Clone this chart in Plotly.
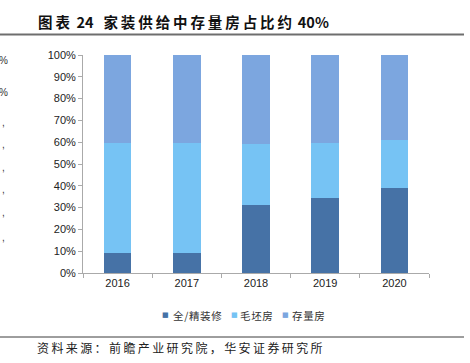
import plotly.graph_objects as go

years = ["2016", "2017", "2018", "2019", "2020"]
full_decor = [9, 9.2, 31, 34.6, 38.8]
rough = [50.5, 50.3, 28.2, 25.1, 22.3]
existing = [40.5, 40.5, 40.8, 40.3, 38.9]
series_names = ["全/精装修", "毛坯房", "存量房"]
colors = ["#4672A6", "#76C3F4", "#7CA6DF"]
ytick_vals = [0, 10, 20, 30, 40, 50, 60, 70, 80, 90, 100]
ytick_text = [f"{v}%" for v in ytick_vals]
title_label = "图表"
title_num = "24"
title_main = "家装供给中存量房占比约"
title_pct = "40%"
source_text = "资料来源：前瞻产业研究院，华安证券研究所"

W, H = 470, 363
PL, PR, PT, PB = 83, 429, 55, 273  # plot area in pixels
TICKFONT = dict(family="Liberation Sans", size=11, color="#222")


def fx(x):
    return x / W


def fy(y):
    return 1 - y / H


fig = go.Figure()
for name, vals, c in zip(series_names, [full_decor, rough, existing], colors):
    fig.add_trace(go.Bar(x=years, y=vals, name=name, marker=dict(color=c, line=dict(width=0)),
                         width=0.4, showlegend=False))

fig.update_layout(
    width=W, height=H, barmode="stack",
    margin=dict(l=0, r=0, t=0, b=0, autoexpand=False),
    showlegend=False,
    xaxis=dict(domain=[fx(PL), fx(PR)], type="category", showline=True, linecolor="#aaaaaa",
               linewidth=1, ticks="outside", tickson="boundaries", ticklen=4,
               tickcolor="#aaaaaa", showgrid=False, tickfont=TICKFONT),
    yaxis=dict(domain=[fy(PB), fy(PT)], range=[0, 100], tickvals=ytick_vals, ticktext=ytick_text,
               showline=True, linecolor="#aaaaaa", linewidth=1, ticks="outside",
               ticklen=4, tickcolor="#aaaaaa", showgrid=False, zeroline=False,
               tickfont=TICKFONT),
)
fig.update_layout(paper_bgcolor="white", plot_bgcolor="white")

# horizontal rules: title underline and source separator
fig.add_shape(type="line", xref="paper", yref="paper", x0=0, x1=fx(464),
              y0=fy(34.5), y1=fy(34.5), line=dict(color="#6e6e6e", width=2), layer="above")
fig.add_shape(type="line", xref="paper", yref="paper", x0=0, x1=fx(464),
              y0=fy(337), y1=fy(337), line=dict(color="#3c3c3c", width=1), layer="above")

# title
nb = "\u00a0"
title_full = ("\u2009".join(title_label) + nb * 2 + title_num + nb * 3
              + "\u2009".join(title_main) + "\u2009\u2009" + title_pct)
fig.add_annotation(xref="paper", yref="paper", x=fx(36), y=fy(21),
                   xanchor="left", yanchor="middle", showarrow=False,
                   text="<b>" + title_full + "</b>",
                   font=dict(family="Noto Sans CJK SC", size=14.5, color="#111"))
# source
fig.add_annotation(xref="paper", yref="paper", x=fx(35), y=fy(347),
                   xanchor="left", yanchor="middle", showarrow=False,
                   text="\u2009".join(source_text),
                   font=dict(family="Noto Sans CJK SC", size=12, color="#222"))

# legend drawn as annotations
legend_pos = [(165, 171), (234, 238), (285, 290)]
for name, c, (sx, tx) in zip(series_names, colors, legend_pos):
    fig.add_annotation(xref="paper", yref="paper", x=fx(sx), y=fy(315),
                       xanchor="center", yanchor="middle", showarrow=False,
                       text="■", font=dict(family="DejaVu Sans", size=7, color=c))
    fig.add_annotation(xref="paper", yref="paper", x=fx(tx), y=fy(315),
                       xanchor="left", yanchor="middle", showarrow=False,
                       text="\u200a".join(name),
                       font=dict(family="Noto Sans CJK SC", size=10.5, color="#333"))

# cropped remnants at left edge
for yy, t in [(60, "%"), (92, "%"), (122, ","), (145, ","), (167, ","), (190, ","), (212, ","), (237, ",")]:
    fig.add_annotation(xref="paper", yref="paper", x=fx(3), y=fy(yy),
                       xanchor="center", yanchor="middle", showarrow=False, text=t,
                       font=dict(family="Liberation Sans", size=10, color="#333"))

fig.write_html("out.html", post_script="document.body.style.margin='0';",
               config={"displayModeBar": False})
